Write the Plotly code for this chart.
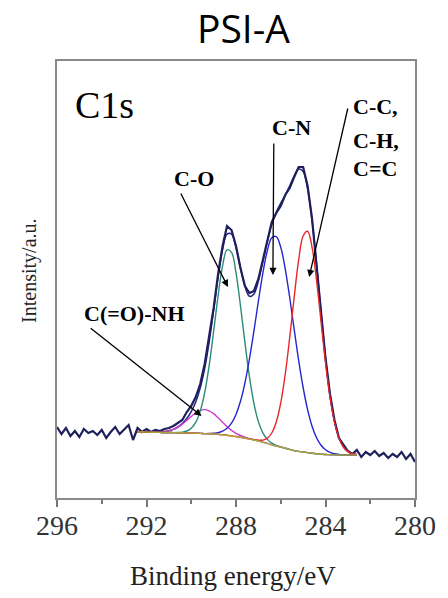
import numpy as np
import plotly.graph_objects as go

# ---- data (intensity in arbitrary units) ----
energy_raw = np.round(np.linspace(296.0, 280.0, 81), 1)
intensity_raw = [71, 64, 70, 62, 67, 61, 69, 65, 67, 63, 68, 60, 66, 71, 64, 69, 73, 58, 70,
                 66, 69, 66, 68, 67, 69, 70, 72, 75, 78, 86, 92,
                 101, 114, 134, 160, 190, 224, 252, 272, 268, 252,
                 230, 212, 205, 207, 219, 238, 258, 276, 285, 292,
                 303, 310, 321, 331, 331, 312, 279, 233, 186, 140,
                 104, 78, 60, 53, 47, 44, 48, 41, 46, 43, 47, 42, 45, 40, 44, 41, 46, 39, 44, 36]

energy_fit = np.round(np.linspace(292.4, 282.6, 50), 1)
background = [66, 66, 65.9, 65.8, 65.7, 65.6, 65.5, 65.5, 65.4, 65.3, 65.2, 65.1, 65,
              64.8, 64.6, 64.4, 64.2, 64, 63.6, 63.2, 62.7, 62.1, 61.5,
              60.7, 59.9, 59, 58, 57, 55.8, 54.6, 53.2, 52, 51,
              49.8, 48.6, 47.4, 46.6, 46, 45.4, 44.8, 44.3, 43.9, 43.5,
              43.3, 43.1, 43, 43, 43, 43, 43]
peak_amide = [0, 0, 0, 0.1, 0.2, 0.4, 0.9, 1.8, 3.2, 5.5, 8.6, 12.5, 16.6,
              20.4, 23.0, 24, 23.0, 20.4, 16.6, 12.5, 8.6, 5.5, 3.2,
              1.8, 0.9, 0.4, 0.2, 0.1, 0, 0, 0, 0, 0,
              0, 0, 0, 0, 0, 0, 0, 0, 0, 0,
              0, 0, 0, 0, 0, 0, 0]
peak_co = [0, 0, 0, 0, 0, 0, 0, 0, 0, 0.2, 0.7, 1.9, 4.8,
           10.8, 22.3, 41.0, 68.3, 102.5, 138.6, 168.9, 185.5, 183.5, 163.6,
           131.5, 95.4, 62.3, 36.7, 19.4, 9.3, 4.0, 1.6, 0.5, 0,
           0, 0, 0, 0, 0, 0, 0, 0, 0, 0,
           0, 0, 0, 0, 0, 0, 0]
peak_cn = [0, 0, 0, 0, 0, 0, 0, 0, 0, 0, 0, 0, 0,
           0, 0, 0, 0.3, 0.8, 1.7, 3.6, 7.0, 12.8, 22.1,
           36.0, 55.3, 80.0, 108.9, 139.8, 169.0, 192.7, 207.0, 209.4, 199.7,
           179.4, 151.9, 121.2, 91.1, 64.5, 43.0, 27.0, 16.0, 8.9, 4.7,
           2.3, 1.1, 0.5, 0.2, 0.1, 0, 0]
peak_cc = [0, 0, 0, 0, 0, 0, 0, 0, 0, 0, 0, 0, 0,
           0, 0, 0, 0, 0, 0, 0, 0, 0, 0,
           0, 0, 0, 0.3, 0.8, 2.1, 5.3, 11.8, 24.0, 44.2,
           73.7, 111.7, 153.4, 191.2, 216.0, 221.3, 205.8, 173.4, 132.5, 91.9,
           57.7, 33.0, 17.0, 8.0, 3.4, 1.3, 0.5]

x_ticks = [296, 292, 288, 284, 280]

bg = np.array(background)
envelope = bg + np.array(peak_amide) + np.array(peak_co) + np.array(peak_cn) + np.array(peak_cc)

SERIF = "Liberation Serif, Times New Roman, serif"

fig = go.Figure()
fig.add_trace(go.Scatter(x=energy_fit, y=envelope, mode="lines", line=dict(color="#22228a", width=1.5, shape="spline"), showlegend=False))
fig.add_trace(go.Scatter(x=energy_raw, y=intensity_raw, mode="lines", line=dict(color="#1f1f5c", width=2.2), showlegend=False))
for vals, col in [(peak_amide, "#d23cd2"), (peak_co, "#2a8c78"), (peak_cn, "#2626d0"), (peak_cc, "#e8262a")]:
    fig.add_trace(go.Scatter(x=energy_fit, y=bg + np.array(vals), mode="lines",
                             line=dict(color=col, width=1.4, shape="spline"), showlegend=False))
fig.add_trace(go.Scatter(x=energy_fit, y=bg, mode="lines", line=dict(color="#aaa43c", width=1.4, shape="spline"), showlegend=False))

ann = []
lab = dict(family=SERIF, size=22, color="black")
# text labels
ann.append(dict(x=295.3, y=393, xref="x", yref="y", text="C1s", showarrow=False, xanchor="left", yanchor="middle",
                font=dict(family=SERIF, size=38, color="black")))
ann.append(dict(x=289.89, y=320, xref="x", yref="y", text="<b>C-O</b>", showarrow=False, font=lab))
ann.append(dict(x=285.52, y=371, xref="x", yref="y", text="<b>C-N</b>", showarrow=False, font=lab))
ann.append(dict(x=282.86, y=392, xref="x", yref="y", text="<b>C-C,</b>", showarrow=False, xanchor="left", font=lab))
ann.append(dict(x=282.86, y=358, xref="x", yref="y", text="<b>C-H,</b>", showarrow=False, xanchor="left", font=lab))
ann.append(dict(x=282.86, y=330, xref="x", yref="y", text="<b>C=C</b>", showarrow=False, xanchor="left", font=lab))
ann.append(dict(x=292.55, y=185, xref="x", yref="y", text="<b>C(=O)-NH</b>", showarrow=False, font=lab))
# arrows (tip x,y ; tail ax,ay)
for tip, tail in [((288.36, 211), (290.50, 306)),
                  ((286.35, 223), (286.31, 356)),
                  ((284.73, 221), (282.99, 391)),
                  ((289.54, 82), (294.56, 171))]:
    ann.append(dict(x=tip[0], y=tip[1], ax=tail[0], ay=tail[1], xref="x", yref="y", axref="x", ayref="y",
                    text="", showarrow=True, arrowhead=2, arrowsize=1.1, arrowwidth=1.3, arrowcolor="black"))
# titles
ann.append(dict(x=0.522, y=1.1396, xref="paper", yref="paper", text="PSI-A", showarrow=False,
                xanchor="center", yanchor="top", borderpad=0,
                font=dict(family="Open Sans, sans-serif", size=39, color="black")))
ann.append(dict(x=0.493, y=-0.1785, xref="paper", yref="paper", text="Binding energy/eV", showarrow=False,
                xanchor="center", yanchor="middle",
                font=dict(family=SERIF, size=27, color="#222")))
ann.append(dict(x=-0.0763, y=0.519, xref="paper", yref="paper", text="Intensity/a.u.", showarrow=False, textangle=-90,
                xanchor="center", yanchor="middle",
                font=dict(family=SERIF, size=20, color="#222")))

fig.update_layout(
    width=448, height=598,
    margin=dict(l=57, r=24, t=61, b=100),
    paper_bgcolor="white", plot_bgcolor="white",
    annotations=ann,
    xaxis=dict(range=[296, 280], showline=True, linecolor="#8a8a8a", linewidth=2, mirror=True,
               ticks="outside", ticklen=7, tickwidth=1.5, tickcolor="#777",
               tickvals=x_ticks, ticktext=[str(v) for v in x_ticks],
               minor=dict(ticks="outside", dtick=2, ticklen=4, tickcolor="#777", tickwidth=1.5),
               tickfont=dict(family=SERIF, size=28, color="#333"), ticklabelstandoff=-6,
               showgrid=False, zeroline=False),
    yaxis=dict(range=[0, 437], showline=True, linecolor="#8a8a8a", linewidth=2, mirror=True,
               showticklabels=False, ticks="", showgrid=False, zeroline=False),
)

fig.write_html("out.html")
